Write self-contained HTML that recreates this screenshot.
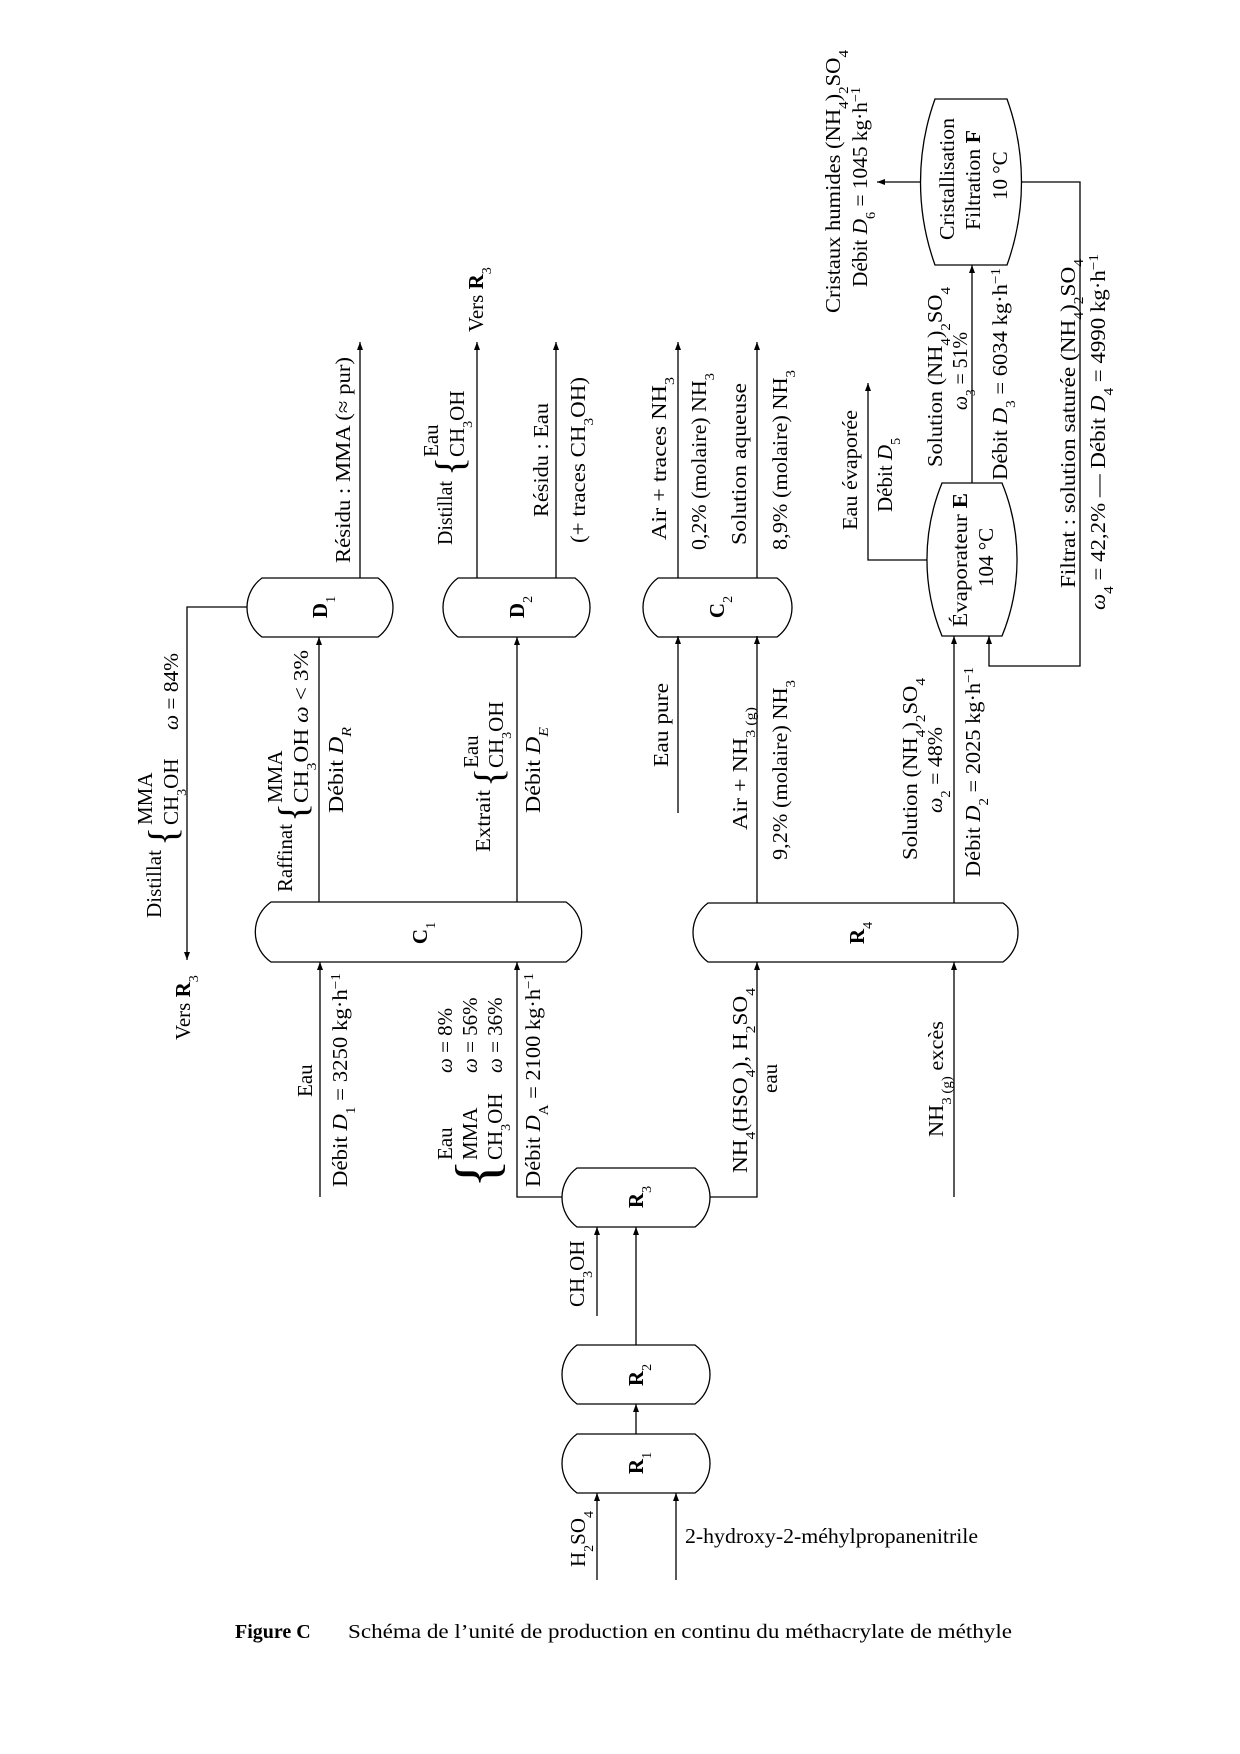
<!DOCTYPE html>
<html><head><meta charset="utf-8"><style>
html,body{margin:0;padding:0;background:#fff;}
svg{display:block;font-size:21px;font-family:"Liberation Serif",serif;}
text{fill:#000;}
.b{font-weight:bold;}
</style></head><body>
<svg width="1240" height="1754" viewBox="0 0 1240 1754" xmlns="http://www.w3.org/2000/svg">
<defs>
<marker id="a" markerWidth="9" markerHeight="7" refX="8" refY="3" orient="auto" markerUnits="userSpaceOnUse">
<path d="M0,0 L8,3 L0,6 z" fill="#000"/>
</marker>
</defs>
<g fill="none" stroke="#000" stroke-width="1.3">
<path d="M262,578 H378 A36.5 36.5 0 0 1 378,637 H262 A36.5 36.5 0 0 1 262,578 Z"/>
<path d="M458,578 H575 A36.5 36.5 0 0 1 575,637 H458 A36.5 36.5 0 0 1 458,578 Z"/>
<path d="M658,578 H777 A36.5 36.5 0 0 1 777,637 H658 A36.5 36.5 0 0 1 658,578 Z"/>
<path d="M271,902 H566 A36.5 36.5 0 0 1 566,962 H271 A36.5 36.5 0 0 1 271,902 Z"/>
<path d="M708,903 H1003 A36.5 36.5 0 0 1 1003,962 H708 A36.5 36.5 0 0 1 708,903 Z"/>
<path d="M577,1434 H695 A36.5 36.5 0 0 1 695,1493 H577 A36.5 36.5 0 0 1 577,1434 Z"/>
<path d="M577,1345 H695 A36.5 36.5 0 0 1 695,1404 H577 A36.5 36.5 0 0 1 577,1345 Z"/>
<path d="M577,1168 H695 A36.5 36.5 0 0 1 695,1227 H577 A36.5 36.5 0 0 1 577,1168 Z"/>
<path d="M942,483 H1002 A202 202 0 0 1 1002,636 H942 A202 202 0 0 1 942,483 Z"/>
<path d="M935,99 H1007 A245 245 0 0 1 1007,265 H935 A245 245 0 0 1 935,99 Z"/>
<g marker-end="url(#a)">
<path d="M360,578 V342"/>
<path d="M247,607 H187 V960"/>
<path d="M477,578 V342"/>
<path d="M556,578 V342"/>
<path d="M678,578 V342"/>
<path d="M757,578 V342"/>
<path d="M319,902 V637"/>
<path d="M517,902 V637"/>
<path d="M320,1197 V962"/>
<path d="M562,1197 H517 V962"/>
<path d="M710,1197 H757 V962"/>
<path d="M954,1197 V962"/>
<path d="M678,813 V636"/>
<path d="M757,903 V636"/>
<path d="M954,903 V636"/>
<path d="M1022,182 H1080 V666 H989 V636"/>
<path d="M972,483 V265"/>
<path d="M927,560 H868 V383"/>
<path d="M921,182 H877"/>
<path d="M597,1580 V1493"/>
<path d="M676,1580 V1493"/>
<path d="M636,1434 V1404"/>
<path d="M636,1345 V1227"/>
<path d="M597,1316 V1227"/>
</g>
</g>

<g class="b" text-anchor="middle">
<text transform="translate(327,607) rotate(-90)">D<tspan font-size="14" baseline-shift="sub" font-weight="normal">1</tspan></text>
<text transform="translate(524,607) rotate(-90)">D<tspan font-size="14" baseline-shift="sub" font-weight="normal">2</tspan></text>
<text transform="translate(724,607) rotate(-90)">C<tspan font-size="14" baseline-shift="sub" font-weight="normal">2</tspan></text>
<text transform="translate(427,933) rotate(-90)">C<tspan font-size="14" baseline-shift="sub" font-weight="normal">1</tspan></text>
<text transform="translate(864,933) rotate(-90)">R<tspan font-size="14" baseline-shift="sub" font-weight="normal">4</tspan></text>
<text transform="translate(643,1463) rotate(-90)">R<tspan font-size="14" baseline-shift="sub" font-weight="normal">1</tspan></text>
<text transform="translate(643,1375) rotate(-90)">R<tspan font-size="14" baseline-shift="sub" font-weight="normal">2</tspan></text>
<text transform="translate(643,1197) rotate(-90)">R<tspan font-size="14" baseline-shift="sub" font-weight="normal">3</tspan></text>
</g>

<text transform="translate(161,918) rotate(-90)" textLength="68" lengthAdjust="spacingAndGlyphs">Distillat</text>
<text transform="translate(176,846) rotate(-90)" font-size="40" font-weight="100">{</text>
<text transform="translate(152,825) rotate(-90)">MMA</text>
<text transform="translate(178,825) rotate(-90)">CH<tspan font-size="14" baseline-shift="sub">3</tspan>OH</text>
<text transform="translate(178,730) rotate(-90)" textLength="77" lengthAdjust="spacingAndGlyphs"><tspan font-style="italic">ω</tspan> = 84%</text>
<text transform="translate(190,1040) rotate(-90)">Vers <tspan class="b">R</tspan><tspan font-size="14" baseline-shift="sub">3</tspan></text>

<text transform="translate(292,892) rotate(-90)" textLength="68" lengthAdjust="spacingAndGlyphs">Raffinat</text>
<text transform="translate(306,822) rotate(-90)" font-size="40" font-weight="100">{</text>
<text transform="translate(282,803) rotate(-90)">MMA</text>
<text transform="translate(308,803) rotate(-90)" textLength="153" lengthAdjust="spacingAndGlyphs">CH<tspan font-size="14" baseline-shift="sub">3</tspan>OH <tspan font-style="italic">ω</tspan> &lt; 3%</text>
<text transform="translate(343,813) rotate(-90)" textLength="86" lengthAdjust="spacingAndGlyphs">Débit <tspan font-style="italic">D</tspan><tspan font-size="14" baseline-shift="sub" font-style="italic">R</tspan></text>

<text transform="translate(490,852) rotate(-90)" textLength="62" lengthAdjust="spacingAndGlyphs">Extrait</text>
<text transform="translate(502,787) rotate(-90)" font-size="40" font-weight="100">{</text>
<text transform="translate(478,768) rotate(-90)">Eau</text>
<text transform="translate(503,768) rotate(-90)">CH<tspan font-size="14" baseline-shift="sub">3</tspan>OH</text>
<text transform="translate(540,813) rotate(-90)" textLength="86" lengthAdjust="spacingAndGlyphs">Débit <tspan font-style="italic">D</tspan><tspan font-size="14" baseline-shift="sub" font-style="italic">E</tspan></text>

<text transform="translate(350,563) rotate(-90)" textLength="206" lengthAdjust="spacingAndGlyphs">Résidu : MMA (≈ pur)</text>
<text transform="translate(452,545) rotate(-90)" textLength="64" lengthAdjust="spacingAndGlyphs">Distillat</text>
<text transform="translate(463,476) rotate(-90)" font-size="40" font-weight="100">{</text>
<text transform="translate(438,457) rotate(-90)">Eau</text>
<text transform="translate(464,457) rotate(-90)">CH<tspan font-size="14" baseline-shift="sub">3</tspan>OH</text>
<text transform="translate(483,332) rotate(-90)">Vers <tspan class="b">R</tspan><tspan font-size="14" baseline-shift="sub">3</tspan></text>
<text transform="translate(548,517) rotate(-90)" textLength="114" lengthAdjust="spacingAndGlyphs">Résidu : Eau</text>
<text transform="translate(585,543) rotate(-90)" textLength="166" lengthAdjust="spacingAndGlyphs">(+ traces CH<tspan font-size="14" baseline-shift="sub">3</tspan>OH)</text>

<text transform="translate(666,540) rotate(-90)" textLength="163" lengthAdjust="spacingAndGlyphs">Air + traces NH<tspan font-size="14" baseline-shift="sub">3</tspan></text>
<text transform="translate(706,550) rotate(-90)" textLength="177" lengthAdjust="spacingAndGlyphs">0,2% (molaire) NH<tspan font-size="14" baseline-shift="sub">3</tspan></text>
<text transform="translate(746,545) rotate(-90)" textLength="162" lengthAdjust="spacingAndGlyphs">Solution aqueuse</text>
<text transform="translate(787,550) rotate(-90)" textLength="180" lengthAdjust="spacingAndGlyphs">8,9% (molaire) NH<tspan font-size="14" baseline-shift="sub">3</tspan></text>

<text transform="translate(668,767) rotate(-90)" textLength="84" lengthAdjust="spacingAndGlyphs">Eau pure</text>
<text transform="translate(747,830) rotate(-90)" textLength="123" lengthAdjust="spacingAndGlyphs">Air + NH<tspan font-size="14" baseline-shift="sub">3 (g)</tspan></text>
<text transform="translate(787,860) rotate(-90)" textLength="180" lengthAdjust="spacingAndGlyphs">9,2% (molaire) NH<tspan font-size="14" baseline-shift="sub">3</tspan></text>
<text transform="translate(917,860) rotate(-90)" textLength="182" lengthAdjust="spacingAndGlyphs">Solution (NH<tspan font-size="14" baseline-shift="sub">4</tspan>)<tspan font-size="14" baseline-shift="sub">2</tspan>SO<tspan font-size="14" baseline-shift="sub">4</tspan></text>
<text transform="translate(942,813) rotate(-90)" textLength="86" lengthAdjust="spacingAndGlyphs"><tspan font-style="italic">ω</tspan><tspan font-size="14" baseline-shift="sub">2</tspan> = 48%</text>
<text transform="translate(980,877) rotate(-90)" textLength="210" lengthAdjust="spacingAndGlyphs">Débit <tspan font-style="italic">D</tspan><tspan font-size="14" baseline-shift="sub">2</tspan> = 2025 kg·h<tspan font-size="14" baseline-shift="super">−1</tspan></text>

<text transform="translate(312,1097) rotate(-90)">Eau</text>
<text transform="translate(347,1187) rotate(-90)" textLength="214" lengthAdjust="spacingAndGlyphs">Débit <tspan font-style="italic">D</tspan><tspan font-size="14" baseline-shift="sub">1</tspan> = 3250 kg·h<tspan font-size="14" baseline-shift="super">−1</tspan></text>
<text transform="translate(497,1188) rotate(-90)" font-size="60" font-weight="100">{</text>
<text transform="translate(452,1160) rotate(-90)">Eau</text>
<text transform="translate(477,1160) rotate(-90)">MMA</text>
<text transform="translate(502,1160) rotate(-90)">CH<tspan font-size="14" baseline-shift="sub">3</tspan>OH</text>
<text transform="translate(452,1073) rotate(-90)"><tspan font-style="italic">ω</tspan> = 8%</text>
<text transform="translate(477,1073) rotate(-90)"><tspan font-style="italic">ω</tspan> = 56%</text>
<text transform="translate(502,1073) rotate(-90)"><tspan font-style="italic">ω</tspan> = 36%</text>
<text transform="translate(540,1187) rotate(-90)" textLength="214" lengthAdjust="spacingAndGlyphs">Débit <tspan font-style="italic">D</tspan><tspan font-size="14" baseline-shift="sub">A</tspan> = 2100 kg·h<tspan font-size="14" baseline-shift="super">−1</tspan></text>
<text transform="translate(747,1173) rotate(-90)" textLength="185" lengthAdjust="spacingAndGlyphs">NH<tspan font-size="14" baseline-shift="sub">4</tspan>(HSO<tspan font-size="14" baseline-shift="sub">4</tspan>), H<tspan font-size="14" baseline-shift="sub">2</tspan>SO<tspan font-size="14" baseline-shift="sub">4</tspan></text>
<text transform="translate(777,1093) rotate(-90)">eau</text>
<text transform="translate(943,1137) rotate(-90)" textLength="116" lengthAdjust="spacingAndGlyphs">NH<tspan font-size="14" baseline-shift="sub">3 (g)</tspan> excès</text>
<text transform="translate(584,1307) rotate(-90)">CH<tspan font-size="14" baseline-shift="sub">3</tspan>OH</text>
<text transform="translate(585,1567) rotate(-90)">H<tspan font-size="14" baseline-shift="sub">2</tspan>SO<tspan font-size="14" baseline-shift="sub">4</tspan></text>
<text x="685" y="1543" textLength="293" lengthAdjust="spacingAndGlyphs">2-hydroxy-2-méhylpropanenitrile</text>

<text transform="translate(857,530) rotate(-90)" textLength="120" lengthAdjust="spacingAndGlyphs">Eau évaporée</text>
<text transform="translate(892,512) rotate(-90)">Débit <tspan font-style="italic">D</tspan><tspan font-size="14" baseline-shift="sub">5</tspan></text>
<text transform="translate(967,627) rotate(-90)" textLength="134" lengthAdjust="spacingAndGlyphs">Évaporateur <tspan class="b">E</tspan></text>
<text transform="translate(993,587) rotate(-90)">104 °C</text>
<text transform="translate(942,467) rotate(-90)" textLength="180" lengthAdjust="spacingAndGlyphs">Solution (NH<tspan font-size="14" baseline-shift="sub">4</tspan>)<tspan font-size="14" baseline-shift="sub">2</tspan>SO<tspan font-size="14" baseline-shift="sub">4</tspan></text>
<text transform="translate(967,410) rotate(-90)" textLength="78" lengthAdjust="spacingAndGlyphs"><tspan font-style="italic">ω</tspan><tspan font-size="14" baseline-shift="sub">3</tspan> = 51%</text>
<text transform="translate(1007,480) rotate(-90)" textLength="212" lengthAdjust="spacingAndGlyphs">Débit <tspan font-style="italic">D</tspan><tspan font-size="14" baseline-shift="sub">3</tspan> = 6034 kg·h<tspan font-size="14" baseline-shift="super">−1</tspan></text>
<text transform="translate(1075,588) rotate(-90)" textLength="329" lengthAdjust="spacingAndGlyphs">Filtrat : solution saturée (NH<tspan font-size="14" baseline-shift="sub">4</tspan>)<tspan font-size="14" baseline-shift="sub">2</tspan>SO<tspan font-size="14" baseline-shift="sub">4</tspan></text>
<text transform="translate(1105,610) rotate(-90)" textLength="356" lengthAdjust="spacingAndGlyphs"><tspan font-style="italic">ω</tspan><tspan font-size="14" baseline-shift="sub">4</tspan> = 42,2% — Débit <tspan font-style="italic">D</tspan><tspan font-size="14" baseline-shift="sub">4</tspan> = 4990 kg·h<tspan font-size="14" baseline-shift="super">−1</tspan></text>
<text transform="translate(840,313) rotate(-90)" textLength="263" lengthAdjust="spacingAndGlyphs">Cristaux humides (NH<tspan font-size="14" baseline-shift="sub">4</tspan>)<tspan font-size="14" baseline-shift="sub">2</tspan>SO<tspan font-size="14" baseline-shift="sub">4</tspan></text>
<text transform="translate(867,287) rotate(-90)" textLength="200" lengthAdjust="spacingAndGlyphs">Débit <tspan font-style="italic">D</tspan><tspan font-size="14" baseline-shift="sub">6</tspan> = 1045 kg·h<tspan font-size="14" baseline-shift="super">−1</tspan></text>
<text transform="translate(954,240) rotate(-90)" textLength="122" lengthAdjust="spacingAndGlyphs">Cristallisation</text>
<text transform="translate(980,230) rotate(-90)" textLength="100" lengthAdjust="spacingAndGlyphs">Filtration <tspan class="b">F</tspan></text>
<text transform="translate(1007,200) rotate(-90)">10 °C</text>

<text x="235" y="1638" class="b" font-size="20">Figure C</text>
<text x="348" y="1638" font-size="20" textLength="664" lengthAdjust="spacingAndGlyphs">Schéma de l’unité de production en continu du méthacrylate de méthyle</text>
</svg>
</body></html>
